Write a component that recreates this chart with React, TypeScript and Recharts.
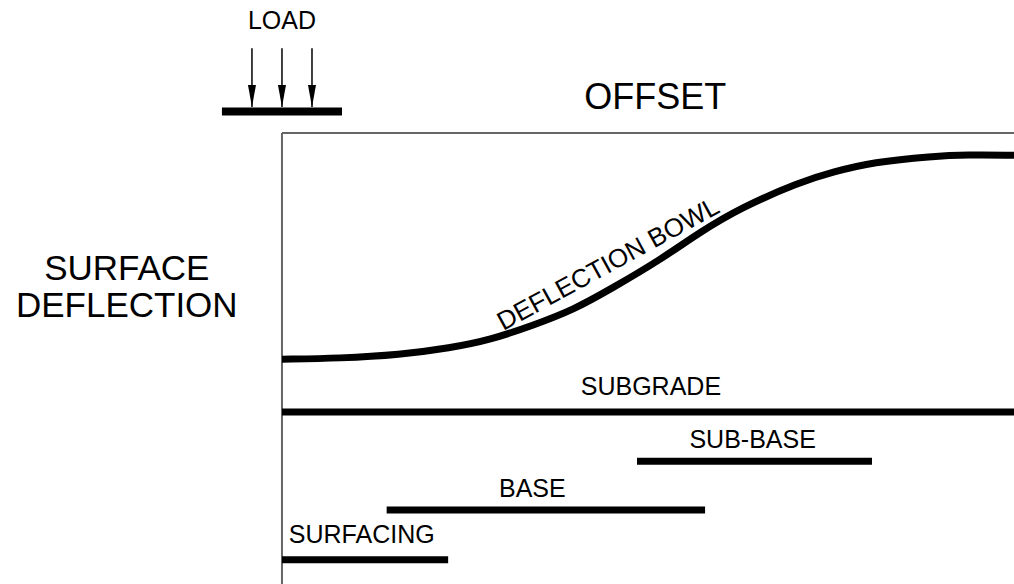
import React from 'react';
import { ComposedChart, Line, XAxis, YAxis, ReferenceDot, ReferenceLine } from 'recharts';

// offset units: 0 = load centre, 100 = right edge of the drawing
// depth units: 0 = surface frame line, one unit ~ one layer step
const X_DOMAIN = [-38.52, 100];
const Y_DOMAIN = [-2.7, 9.15];

const bowlOffset = [0, 7.9, 16.1, 23, 28.4, 34.3, 39.8, 45.2, 51.6, 57.1, 62.6, 70.8, 75.3, 80.7, 88.9, 93.6, 100];
const bowlDepth = [4.59, 4.57, 4.5, 4.36, 4.2, 3.9, 3.59, 3.14, 2.58, 2.01, 1.52, 0.99, 0.79, 0.59, 0.47, 0.44, 0.45];
const bowl = bowlOffset.map((x, i) => ({ x, d: bowlDepth[i] }));

// layers: name, start offset, end offset, depth, label offset, label depth
const layerNames = ['SUBGRADE', 'SUB-BASE', 'BASE', 'SURFACING'];
const layerStart = [0, 48.5, 14.3, 0];
const layerEnd = [100, 80.6, 57.8, 22.7];
const layerDepth = [5.66, 6.66, 7.65, 8.66];
const layerLabelX = [50.4, 64.3, 34.2, 10.9];
const layerLabelD = [5.13, 6.21, 7.21, 8.13];

const plateStart = -8.2;
const plateEnd = 8.2;
const plateDepth = -0.44;
const arrowOffsets = [-4.1, 0, 4.1];
const arrowTop = -1.72;
const arrowTip = -0.53;

const frameTop = [{ x: 0, d: 0 }, { x: 100, d: 0 }];
const frameLeft = [{ x: 0, d: 0 }, { x: 0, d: 9.15 }];

const FONT = '"Liberation Sans", Arial, sans-serif';

const TextLabel = ({ viewBox, text, size, rot = 0 }: any) => {
  const { x, y } = viewBox;
  return (
    <text
      x={x}
      y={y}
      dy="0.36em"
      textAnchor="middle"
      fontSize={size}
      fontFamily={FONT}
      fill="#000"
      transform={rot ? `rotate(${rot}, ${x}, ${y})` : undefined}
    >
      {text}
    </text>
  );
};

const ArrowHead = (props: any) => {
  const { cx, cy, index } = props;
  if (index !== 1) return <g key={`n${index}`} />;
  return <polygon key={`h${index}`} points={`${cx - 4},${cy - 22} ${cx + 4},${cy - 22} ${cx},${cy}`} fill="#000" />;
};

const texts = [
  { x: 0, d: -2.29, t: 'LOAD', s: 25 },
  { x: 51, d: -0.75, t: 'OFFSET', s: 36 },
  { x: -21.2, d: 2.73, t: 'SURFACE', s: 35 },
  { x: -21.2, d: 3.48, t: 'DEFLECTION', s: 35 },
];

export default function App() {
  return (
    <div style={{ position: 'absolute', left: 0, top: 0, background: '#fff' }}>
      <ComposedChart width={1014} height={584} margin={{ top: 0, right: 0, bottom: 0, left: 0 }} accessibilityLayer={false}>
        <XAxis type="number" dataKey="x" domain={X_DOMAIN} hide allowDataOverflow />
        <YAxis type="number" dataKey="d" domain={Y_DOMAIN} reversed hide allowDataOverflow />

        <Line data={frameTop} dataKey="d" stroke="#666" strokeWidth={2} dot={false} activeDot={false} isAnimationActive={false} />
        <Line data={frameLeft} dataKey="d" stroke="#666" strokeWidth={2} dot={false} activeDot={false} isAnimationActive={false} />

        <Line data={bowl} dataKey="d" type="basis" stroke="#000" strokeWidth={7} dot={false} activeDot={false} isAnimationActive={false} />

        {layerNames.map((n, i) => (
          <Line
            key={n}
            data={[{ x: layerStart[i], d: layerDepth[i] }, { x: layerEnd[i], d: layerDepth[i] }]}
            dataKey="d"
            stroke="#000"
            strokeWidth={7}
            dot={false}
            activeDot={false}
            isAnimationActive={false}
          />
        ))}

        <ReferenceLine
          segment={[{ x: plateStart, y: plateDepth }, { x: plateEnd, y: plateDepth }]}
          stroke="#000"
          strokeWidth={8}
          ifOverflow="visible"
        />
        {arrowOffsets.map((x, i) => (
          <Line
            key={`a${i}`}
            data={[{ x, d: arrowTop }, { x, d: arrowTip }]}
            dataKey="d"
            stroke="#000"
            strokeWidth={1.5}
            dot={ArrowHead}
            activeDot={false}
            isAnimationActive={false}
          />
        ))}

        {texts.map((t) => (
          <ReferenceDot key={t.t} x={t.x} y={t.d} r={0} fill="none" stroke="none" ifOverflow="visible"
            label={<TextLabel text={t.t} size={t.s} />} />
        ))}
        {layerNames.map((n, i) => (
          <ReferenceDot key={`l${n}`} x={layerLabelX[i]} y={layerLabelD[i]} r={0} fill="none" stroke="none" ifOverflow="visible"
            label={<TextLabel text={n} size={25} />} />
        ))}
        <ReferenceDot x={44.5} y={2.64} r={0} fill="none" stroke="none" ifOverflow="visible"
          label={<TextLabel text="DEFLECTION BOWL" size={26} rot={-28.7} />} />
      </ComposedChart>
    </div>
  );
}
